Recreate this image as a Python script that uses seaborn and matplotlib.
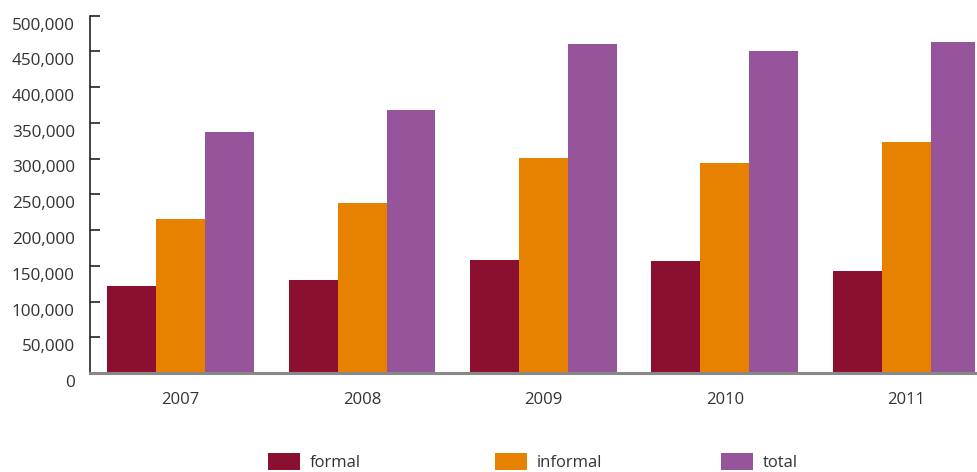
import matplotlib
matplotlib.use("Agg")
import matplotlib.pyplot as plt
import matplotlib.transforms as mtransforms
from matplotlib.ticker import FuncFormatter, MultipleLocator
import seaborn as sns
import pandas as pd

# Employment figures by year
years = ["2007", "2008", "2009", "2010", "2011"]
formal = [122000, 130400, 158000, 157000, 143000]
informal = [215700, 238000, 301000, 294000, 323400]
total = [337300, 368000, 460300, 450500, 463100]

series_names = ["formal", "informal", "total"]
series_colors = ["#8B1030", "#E68200", "#96559B"]

df = pd.DataFrame({
    "year": years * 3,
    "value": formal + informal + total,
    "series": [s for s in series_names for _ in years],
})

sns.set_theme(style="white")
plt.rcParams["font.family"] = ["Open Sans", "DejaVu Sans"]

fig = plt.figure(figsize=(9.77, 4.72), dpi=100)
ax = fig.add_axes([90 / 977, 1 - 373 / 472, 885 / 977, (373 - 15.5) / 472])

sns.barplot(data=df, x="year", y="value", hue="series", hue_order=series_names,
            palette=series_colors, width=0.81, saturation=1, ax=ax, errorbar=None,
            linewidth=0, edgecolor="none")

handles, labels = ax.get_legend_handles_labels()
ax.get_legend().remove()

ax.set_ylim(0, 500000)
ax.set_xlim(-0.5, 4.38)
ax.yaxis.set_major_locator(MultipleLocator(50000))
ax.yaxis.set_major_formatter(FuncFormatter(lambda v, p: f"{int(v):,}"))
ax.set_xlabel("")
ax.set_ylabel("")

for side in ["top", "right"]:
    ax.spines[side].set_visible(False)
ax.spines["left"].set_color("#222222")
ax.spines["left"].set_linewidth(1.2)
ax.spines["bottom"].set_color("#888888")
ax.spines["bottom"].set_linewidth(2.2)

ax.tick_params(axis="y", direction="in", length=7.5, width=1.2, color="#222222",
               labelsize=12.3, labelcolor="#333333", pad=11, left=True)
ax.tick_params(axis="x", length=0, labelsize=12, labelcolor="#333333", pad=14)

# y tick labels sit slightly below their tick marks
offset = mtransforms.ScaledTranslation(0, -8 / 100, fig.dpi_scale_trans)
for lbl in ax.get_yticklabels():
    lbl.set_transform(lbl.get_transform() + offset)

# Legend entries placed individually along the bottom
legend_x = [268, 495, 721]
for h, l, x in zip(handles, labels, legend_x):
    fig.legend([h], [l], loc="center left", bbox_to_anchor=(x / 977, 1 - 462 / 472),
               frameon=False, fontsize=12, handlelength=1.9, handleheight=1.2,
               handletextpad=0.6, borderpad=0, borderaxespad=0,
               labelcolor="#333333")

fig.savefig("out.png", dpi=100)
